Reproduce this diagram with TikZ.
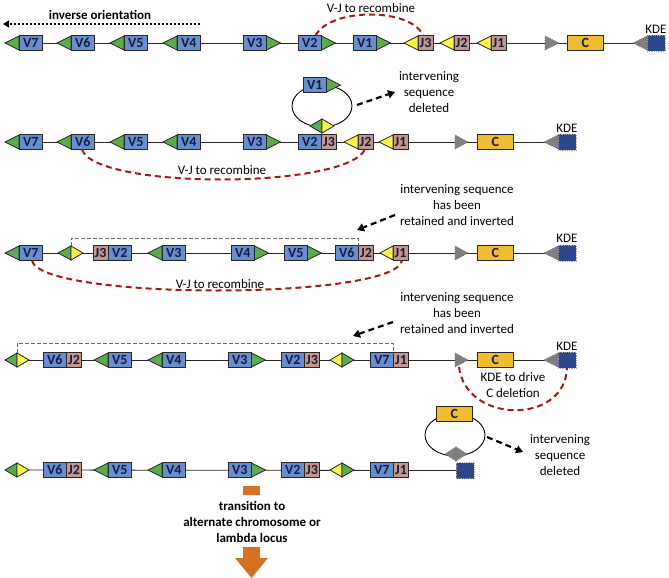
\documentclass[tikz,border=0pt]{standalone}
\usepackage{fontspec}
\setmainfont{Carlito}
\usetikzlibrary{arrows.meta,backgrounds}
\definecolor{vblue}{RGB}{104,142,210}
\definecolor{jpink}{RGB}{196,150,142}
\definecolor{cyel}{RGB}{240,188,48}
\definecolor{kblue}{RGB}{44,72,138}
\definecolor{tgreen}{RGB}{92,172,78}
\definecolor{tyel}{RGB}{250,245,70}
\definecolor{tgrey}{RGB}{128,128,128}
\definecolor{dred}{RGB}{170,22,22}
\definecolor{orng}{RGB}{214,112,34}
\definecolor{labc}{RGB}{20,28,60}
% left-pointing triangle: name, apex x, y, width, style
\newcommand\mktriL[5]{\coordinate (#1) at (#2,#3);\filldraw[#5] (#1) -- ++(#4,-7) -- ++(0,14) -- cycle;}
% right-pointing triangle: name, apex x, y, width, style
\newcommand\mktriR[5]{\coordinate (#1) at (#2,#3);\filldraw[#5] (#1) -- ++(-#4,-7) -- ++(0,14) -- cycle;}
\begin{document}
\begin{tikzpicture}[x=1pt,y=-1pt,
 seg/.style={draw=black!85, line width=0.8pt, inner sep=0pt, outer sep=0pt, minimum height=15, font=\bfseries\fontsize{14}{14}\selectfont, text=labc, anchor=west},
 vb/.style={seg, fill=vblue, minimum width=23.5},
 jb/.style={seg, fill=jpink, minimum width=15},
 cb/.style={seg, fill=cyel, minimum width=36.5},
 kb/.style={draw=gray!70, densely dotted, line width=0.8pt, fill=kblue, minimum width=18, minimum height=16, inner sep=0pt, outer sep=0pt, anchor=west},
 tg/.style={fill=tgreen, draw=black!85, line width=0.8pt},
 ty/.style={fill=tyel, draw=black!85, line width=0.8pt},
 ts/.style={fill=tgrey, draw=black!55, line width=0.8pt, densely dotted},
 bb/.style={line width=0.8pt, black!85},
 txt/.style={font=\fontsize{13}{16}\selectfont, align=center, inner sep=0pt, text=black},
 btxt/.style={txt, font=\bfseries\fontsize{13}{16}\selectfont},
 rarc/.style={dred, line width=2pt, dash pattern=on 6pt off 4pt},
 darr/.style={black, line width=2.2pt, dash pattern=on 6pt off 4pt, -{Triangle[length=7pt,width=8pt]}},
 brk/.style={black!60, line width=0.9pt, dash pattern=on 4pt off 2pt},
 loop/.style={line width=0.9pt, black}
]
\useasboundingbox (0,0) rectangle (669,578);

% ---------------- Row 1 ----------------
\node[vb] (r1v7) at (19,43) {V7};
\node[vb] (r1v6) at (71,43) {V6};
\node[vb] (r1v5) at (124,43) {V5};
\node[vb] (r1v4) at (177,43) {V4};
\node[vb] (r1v3) at (243,43) {V3};
\node[vb] (r1v2) at (298,43) {V2};
\node[vb] (r1v1) at (353,43) {V1};
\node[jb] (r1j3) at (418,43) {J3};
\node[jb] (r1j2) at (454,43) {J2};
\node[jb] (r1j1) at (491,43) {J1};
\node[cb] (r1c) at (567,43) {C};
\node[kb] (r1k) at (647,43) {};
\mktriL{r1t7}{5}{43}{14}{tg}
\mktriL{r1t6}{57}{43}{14}{tg}
\mktriL{r1t5}{110}{43}{14}{tg}
\mktriL{r1t4}{163}{43}{14}{tg}
\mktriR{r1t3}{280.5}{43}{14}{tg}
\mktriR{r1t2}{335.5}{43}{14}{tg}
\mktriR{r1t1}{390.5}{43}{14}{tg}
\mktriL{r1y3}{404}{43}{14}{ty}
\mktriL{r1y2}{440}{43}{14}{ty}
\mktriL{r1y1}{477}{43}{14}{ty}
\mktriR{r1s1}{559}{43}{14}{ts}
\mktriL{r1s2}{633}{43}{14}{ts}
\node[txt] (r1kl) at (656,29) {KDE};
\begin{scope}[on background layer]
\draw[bb] (r1t7) -- (r1k.west);
\end{scope}
\node[btxt] (inv) at (100,15) {inverse orientation};
\coordinate (invs) at (200,24);
\coordinate (inve) at (3,24);
\draw[line width=2.2pt, dash pattern=on 2pt off 2pt, -{Triangle[length=6pt,width=7pt]}] (invs) -- (inve);
\node[txt] (r1vj) at (371,8) {V-J to recombine};
\draw[rarc] ([xshift=-6pt]r1v2.north east) .. controls +(15,-28) and +(-12,-28) .. ([xshift=5pt]r1j3.north west);

% ---------------- Row 2 ----------------
\node[vb] (r2v7) at (19,142) {V7};
\node[vb] (r2v6) at (71,142) {V6};
\node[vb] (r2v5) at (124,142) {V5};
\node[vb] (r2v4) at (177,142) {V4};
\node[vb] (r2v3) at (243,142) {V3};
\node[vb] (r2v2) at (298,142) {V2};
\node[jb] (r2j3) at (321.5,142) {J3};
\node[jb] (r2j2) at (358,142) {J2};
\node[jb] (r2j1) at (393,142) {J1};
\node[cb] (r2c) at (477,142) {C};
\node[kb] (r2k) at (558,142) {};
\mktriL{r2t7}{5}{142}{14}{tg}
\mktriL{r2t6}{57}{142}{14}{tg}
\mktriL{r2t5}{110}{142}{14}{tg}
\mktriL{r2t4}{163}{142}{14}{tg}
\mktriR{r2t3}{280.5}{142}{14}{tg}
\mktriL{r2y2}{344}{142}{14}{ty}
\mktriL{r2y1}{379}{142}{14}{ty}
\mktriR{r2s1}{468}{142}{13}{ts}
\mktriL{r2s2}{544}{142}{14}{ts}
\node[txt] (r2kl) at (567,128) {KDE};
\begin{scope}[on background layer]
\draw[bb] (r2t7) -- (r2k.west);
\coordinate (lp1) at (322,106);
\draw[loop] (lp1) ellipse [x radius=30pt, y radius=21pt];
\end{scope}
\node[vb] (r2v1) at (303,85) {V1};
\mktriR{r2t1}{340.5}{85}{14}{tg}
\mktriL{r2dg}{310}{126}{12}{tg}
\mktriR{r2dy}{334}{126}{12}{ty}
\node[txt] (r2del) at (429,92) {intervening\\sequence\\deleted};
\coordinate (r2a1) at (357,105);
\coordinate (r2a2) at (395,92);
\draw[darr] (r2a1) -- (r2a2);
\node[txt] (r2vj) at (222,170) {V-J to recombine};
\draw[rarc] ([xshift=11pt]r2v6.south west) .. controls +(13,40) and +(-20,40) .. ([xshift=7pt]r2j2.south west);

% ---------------- Row 3 ----------------
\node[vb] (r3v7) at (19,253) {V7};
\node[jb] (r3j3) at (93,253) {J3};
\node[vb] (r3v2) at (108,253) {V2};
\node[vb] (r3v3) at (162,253) {V3};
\node[vb] (r3v4) at (231,253) {V4};
\node[vb] (r3v5) at (284,253) {V5};
\node[vb] (r3v6) at (335,253) {V6};
\node[jb] (r3j2) at (358.5,253) {J2};
\node[jb] (r3j1) at (393,253) {J1};
\node[cb] (r3c) at (477,253) {C};
\node[kb] (r3k) at (558,253) {};
\mktriL{r3t7}{5}{253}{14}{tg}
\mktriL{r3dg}{58}{253}{13}{tg}
\mktriR{r3dy}{83}{253}{12}{ty}
\mktriL{r3t3}{148}{253}{14}{tg}
\mktriR{r3t4}{268.5}{253}{14}{tg}
\mktriR{r3t5}{321.5}{253}{14}{tg}
\mktriL{r3y1}{380}{253}{13}{ty}
\mktriR{r3s1}{468}{253}{13}{ts}
\mktriL{r3s2}{544}{253}{14}{ts}
\node[txt] (r3kl) at (567,238) {KDE};
\begin{scope}[on background layer]
\draw[bb] (r3t7) -- (r3k.west);
\end{scope}
\coordinate (r3b1) at (71,246);
\coordinate (r3b2) at (358.5,246);
\draw[brk] (r3b1) -- ++(0,-8) -| (r3b2);
\node[txt] (r3ret) at (457,205) {intervening sequence\\has been\\retained and inverted};
\coordinate (r3a1) at (395,215);
\coordinate (r3a2) at (357,230);
\draw[darr] (r3a1) -- (r3a2);
\node[txt] (r3vj) at (220,284) {V-J to recombine};
\draw[rarc] ([xshift=13pt]r3v7.south west) .. controls +(8,40) and +(-7,40) .. ([xshift=9pt]r3j1.south west);

% ---------------- Row 4 ----------------
\node[vb] (r4v6) at (43,360) {V6};
\node[jb] (r4j2) at (66.5,360) {J2};
\node[vb] (r4v5) at (108,360) {V5};
\node[vb] (r4v4) at (162,360) {V4};
\node[vb] (r4v3) at (228,360) {V3};
\node[vb] (r4v2) at (281,360) {V2};
\node[jb] (r4j3) at (304.5,360) {J3};
\node[vb] (r4v7) at (370,360) {V7};
\node[jb] (r4j1) at (393.5,360) {J1};
\node[cb] (r4c) at (477,360) {C};
\node[kb] (r4k) at (558,360) {};
\mktriL{r4dg}{5}{360}{12}{tg}
\mktriR{r4dy}{29}{360}{12}{ty}
\mktriL{r4t5}{94}{360}{14}{tg}
\mktriL{r4t4}{148}{360}{14}{tg}
\mktriR{r4t3}{265.5}{360}{14}{tg}
\mktriL{r4ey}{330}{360}{12}{ty}
\mktriR{r4eg}{354}{360}{12}{tg}
\mktriR{r4s1}{468}{360}{13}{ts}
\mktriL{r4s2}{544}{360}{14}{ts}
\node[txt] (r4kl) at (567,346) {KDE};
\begin{scope}[on background layer]
\draw[bb] (r4dg) -- (r4k.west);
\end{scope}
\coordinate (r4b1) at (17,353);
\coordinate (r4b2) at (393.5,353);
\draw[brk] (r4b1) -- ++(0,-10) -| (r4b2);
\node[txt] (r4ret) at (457,313) {intervening sequence\\has been\\retained and inverted};
\coordinate (r4a1) at (393,322);
\coordinate (r4a2) at (353,336);
\draw[darr] (r4a1) -- (r4a2);
\node[txt] (r4kd) at (513,385.5) {KDE to drive\\C deletion};
\draw[rarc] ([shift={(-9,7)}]r4s1) .. controls +(7,57) and +(-2,57) .. ([xshift=9pt]r4k.south west);

% ---------------- Row 5 ----------------
\node[vb] (r5v6) at (43,470) {V6};
\node[jb] (r5j2) at (66.5,470) {J2};
\node[vb] (r5v5) at (108,470) {V5};
\node[vb] (r5v4) at (162,470) {V4};
\node[vb] (r5v3) at (228,470) {V3};
\node[vb] (r5v2) at (281,470) {V2};
\node[jb] (r5j3) at (304.5,470) {J3};
\node[vb] (r5v7) at (370,470) {V7};
\node[jb] (r5j1) at (393.5,470) {J1};
\node[kb] (r5k) at (456,470.5) {};
\mktriL{r5dg}{5}{470}{12}{tg}
\mktriR{r5dy}{29}{470}{12}{ty}
\mktriL{r5t5}{94}{470}{14}{tg}
\mktriL{r5t4}{148}{470}{14}{tg}
\mktriR{r5t3}{265.5}{470}{14}{tg}
\mktriL{r5ey}{330}{470}{12}{ty}
\mktriR{r5eg}{354}{470}{12}{tg}
\begin{scope}[on background layer]
\draw[bb] (r5dg) -- (r5k.west);
\coordinate (lp2) at (455,435);
\draw[loop] (lp2) ellipse [x radius=30pt, y radius=21pt];
\end{scope}
\node[cb] (r5c) at (436,413.5) {C};
\mktriL{r5sl}{445}{454}{11}{ts}
\mktriR{r5sr}{467}{454}{11}{ts}
\node[txt] (r5del) at (560,455) {intervening\\sequence\\deleted};
\coordinate (r5a1) at (487,437);
\coordinate (r5a2) at (523,452);
\draw[darr] (r5a1) -- (r5a2);

% transition
\node[fill=orng, minimum width=17, minimum height=9, inner sep=0pt] (orect) at (251.5,490.5) {};
\node[btxt] (trans) at (252,521.5) {transition to\\alternate chromosome or\\lambda locus};
\fill[orng] (243,547) -- (260,547) -- (260,558) -- (268,558) -- (251.5,578) -- (235,558) -- (243,558) -- cycle;
\end{tikzpicture}
\end{document}
